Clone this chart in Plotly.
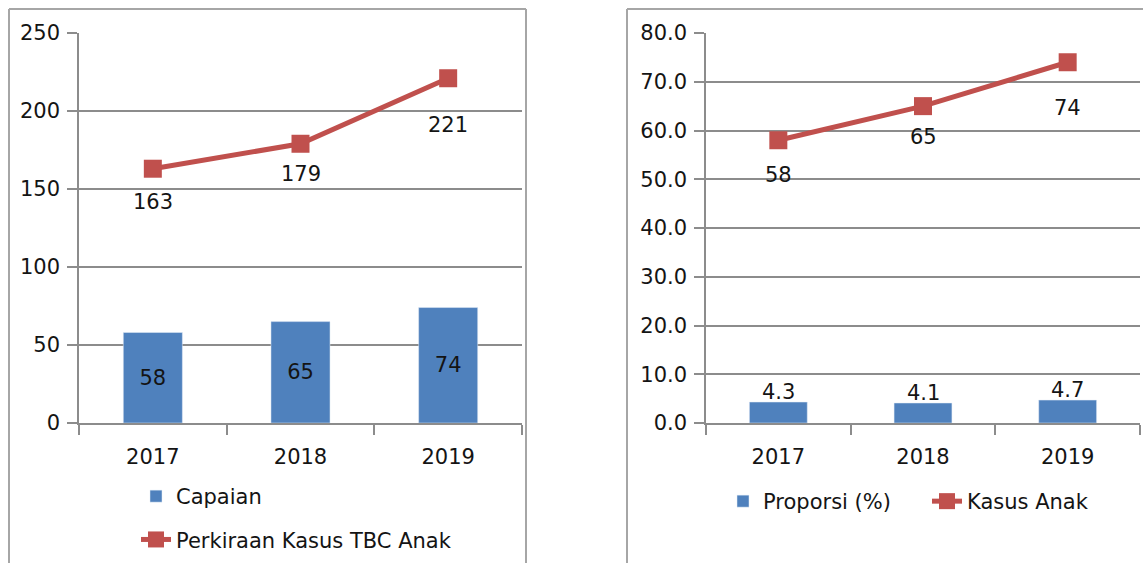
import plotly.graph_objects as go

# data
years = ["2017", "2018", "2019"]
capaian = [58, 65, 74]
perkiraan = [163, 179, 221]
proporsi = [4.3, 4.1, 4.7]
kasus_anak = [58, 65, 74]

BLUE = "#4F81BD"
RED = "#C0504D"
GRID = "#8C8C8C"
BORDER = "#A6A6A6"
TXT = "#141414"
FONT = "DejaVu Sans"
FS = 21
W, H = 1143, 563

# jarak label garis di bawah penanda (px)
shift_kiri = [33, 30, 47]
shift_kanan = [35, 31, 46]


def px_x(v):
    return v / W


def px_y(v):
    return 1 - v / H


lbl_font = dict(color=TXT, size=FS, family=FONT)
fig = go.Figure()

# panel kiri
fig.add_trace(go.Bar(
    x=years, y=capaian, name="Capaian", marker_color=BLUE, width=0.4,
    text=capaian, textposition="inside", insidetextanchor="middle",
    textfont=lbl_font, xaxis="x", yaxis="y", legend="legend", legendgroup="a",
))
fig.add_trace(go.Scatter(
    x=years, y=perkiraan, name="Perkiraan Kasus TBC Anak", mode="lines+markers",
    line=dict(color=RED, width=5), marker=dict(symbol="square", size=18, color=RED),
    xaxis="x", yaxis="y", legend="legend", legendgroup="b", cliponaxis=False,
))

# panel kanan
fig.add_trace(go.Bar(
    x=years, y=proporsi, name="Proporsi (%)", marker_color=BLUE, width=0.4,
    xaxis="x2", yaxis="y2", legend="legend2",
))
fig.add_trace(go.Scatter(
    x=years, y=kasus_anak, name="Kasus Anak", mode="lines+markers",
    line=dict(color=RED, width=5), marker=dict(symbol="square", size=18, color=RED),
    xaxis="x2", yaxis="y2", legend="legend2", cliponaxis=False,
))

# label data (sumbu kategori: posisi = indeks kategori)
for i, (v, s) in enumerate(zip(perkiraan, shift_kiri)):
    fig.add_annotation(x=i, y=v, xref="x", yref="y", text=str(v), showarrow=False,
                       yshift=-s, font=lbl_font)
for i, (v, s) in enumerate(zip(kasus_anak, shift_kanan)):
    fig.add_annotation(x=i, y=v, xref="x2", yref="y2", text=str(v), showarrow=False,
                       yshift=-s, font=lbl_font)
for i, v in enumerate(proporsi):
    fig.add_annotation(x=i, y=v, xref="x2", yref="y2", text=f"{v:.1f}", showarrow=False,
                       yanchor="bottom", yshift=-4, font=lbl_font)

xax = dict(
    type="category", tickson="boundaries", ticks="outside", ticklen=10,
    tickcolor=GRID, tickwidth=1.5, showline=True, linecolor=GRID, linewidth=1.5,
    showgrid=False, tickfont=dict(size=FS, color=TXT, family=FONT),
    ticklabelstandoff=14, range=[-0.5, 2.5], fixedrange=True,
)
yax = dict(
    ticks="outside", ticklen=10, tickcolor=GRID, tickwidth=1.5,
    showline=True, linecolor=GRID, linewidth=1.5,
    showgrid=True, gridcolor=GRID, gridwidth=1.5, zeroline=False,
    tickfont=dict(size=FS, color=TXT, family=FONT), ticklabelstandoff=3,
    fixedrange=True,
)

fig.update_layout(
    margin=dict(l=0, r=0, t=0, b=0, autoexpand=False),
    paper_bgcolor="white", plot_bgcolor="white",
    font=dict(family=FONT, size=FS, color=TXT),
    xaxis=dict(xax, domain=[px_x(79), px_x(522)], anchor="y"),
    yaxis=dict(yax, domain=[px_y(423), px_y(33)], range=[0, 250], dtick=50, anchor="x"),
    xaxis2=dict(xax, domain=[px_x(706), px_x(1140)], anchor="y2"),
    yaxis2=dict(yax, domain=[px_y(423), px_y(33)], range=[0, 80], dtick=10,
                tickformat=".1f", anchor="x2"),
    legend=dict(x=px_x(136), y=px_y(476), xanchor="left", yanchor="top",
                orientation="v", traceorder="grouped", tracegroupgap=13,
                font=dict(size=FS, color=TXT, family=FONT), bgcolor="rgba(0,0,0,0)"),
    legend2=dict(x=px_x(723), y=px_y(481), xanchor="left", yanchor="top",
                 orientation="h", entrywidth=159, entrywidthmode="pixels",
                 font=dict(size=FS, color=TXT, family=FONT), bgcolor="rgba(0,0,0,0)"),
    bargap=0.6,
)

# bingkai panel
border = dict(color=BORDER, width=2)
for x0, y0, x1, y1 in [
    (9, 9, 526, 9), (9, 9, 9, 600), (526, 9, 526, 600),
    (627, 9, 1150, 9), (627, 9, 627, 600),
]:
    fig.add_shape(type="line", xref="paper", yref="paper",
                  x0=px_x(x0), y0=px_y(y0), x1=px_x(x1), y1=px_y(y1), line=border)

js = """
var s = document.documentElement.style, b = document.body.style;
s.margin = b.margin = '0'; s.height = b.height = '100%';
s.overflow = b.overflow = 'hidden';
Plotly.Plots.resize(document.getElementById('{plot_id}'));
"""
fig.write_html("out.html", config={"displayModeBar": False},
               default_width="100vw", default_height="100vh", post_script=js)
